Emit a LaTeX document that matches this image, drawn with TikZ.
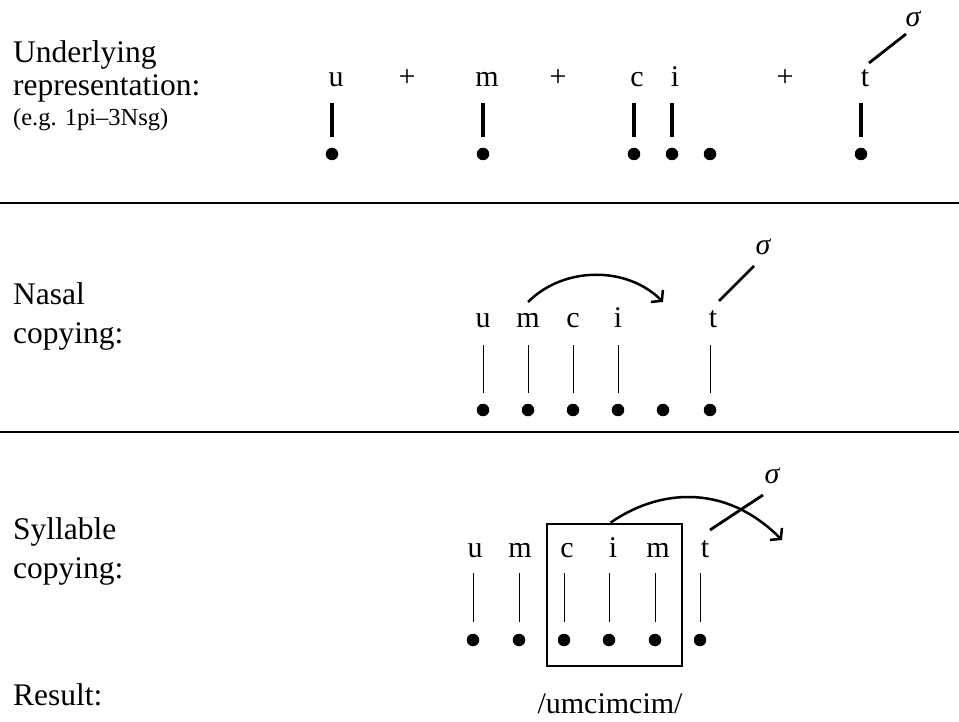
\documentclass[tikz,border=0pt]{standalone}
\usepackage{fontspec}
\setmainfont{Liberation Serif}
\usetikzlibrary{arrows.meta,calc}
\begin{document}
\begin{tikzpicture}[x=1pt,y=1pt,
  lbl/.style={anchor=base west, inner sep=0pt, font=\fontsize{31.5}{33}\selectfont},
  note/.style={anchor=base west, inner sep=0pt, font=\fontsize{24.5}{28}\selectfont},
  seg/.style={anchor=base, inner sep=0pt, font=\fontsize{30}{32}\selectfont},
  syl/.style={anchor=base, inner sep=0pt, font=\fontsize{30}{32}\selectfont\itshape},
  dot/.style={circle, fill, inner sep=0pt, minimum size=12.5pt},
  boldlink/.style={line width=3.4pt},
  thinlink/.style={line width=0.9pt},
  siglink/.style={line width=2.8pt},
  arcarrow/.style={line width=2.5pt, -{Straight Barb[length=7pt,width=17pt,line width=2.5pt]}},
  rule/.style={line width=1.2pt}]

\useasboundingbox (0,0) rectangle (959,-722);

% section rules
\coordinate (r1w) at (0,-203);   \coordinate (r1e) at (959,-203);
\coordinate (r2w) at (0,-432);   \coordinate (r2e) at (959,-432);
\draw[rule] (r1w) -- (r1e);
\draw[rule] (r2w) -- (r2e);

% ---------- underlying representation ----------
\node[lbl]  (h1a) at (13,-63)  {Underlying};
\node[lbl]  (h1b) at (13,-96)  {representation:};
\node[note] (h1c) at (13,-126) {(e.g. 1pi–3Nsg)};

\node[seg] (u1)  at (336,-87) {u};
\node[seg] (p1)  at (407,-87) {+};
\node[seg] (m1)  at (487,-87) {m};
\node[seg] (p2)  at (558,-87) {+};
\node[seg] (c1)  at (637,-87) {c};
\node[seg] (i1)  at (675,-87) {i};
\node[seg] (p3)  at (785,-87) {+};
\node[seg] (t1)  at (865,-87) {t};
\node[syl] (sg1) at (913,-27) {σ};

\node[dot] (a1) at (332,-154) {};
\node[dot] (a2) at (483,-154) {};
\node[dot] (a3) at (634,-154) {};
\node[dot] (a4) at (672,-154) {};
\node[dot] (a5) at (710,-154) {};
\node[dot] (a6) at (861,-154) {};

\foreach \d in {a1,a2,a3,a4,a6}
  \draw[boldlink] ([yshift=17pt]\d.center) -- ([yshift=51pt]\d.center);
\draw[siglink] ($(t1.base)+(4,24)$) -- ($(sg1.base)+(-7,-7)$);

% ---------- nasal copying ----------
\node[lbl] (h2a) at (13,-305) {Nasal};
\node[lbl] (h2b) at (13,-343) {copying:};

\node[seg] (u2) at (483,-327) {u};
\node[seg] (m2) at (528,-327) {m};
\node[seg] (c2) at (573,-327) {c};
\node[seg] (i2) at (618,-327) {i};
\node[seg] (t2) at (713,-327) {t};
\node[syl] (sg2) at (763,-255) {σ};

\node[dot] (b1) at (483,-410) {};
\node[dot] (b2) at (528,-410) {};
\node[dot] (b3) at (573,-410) {};
\node[dot] (b4) at (618,-410) {};
\node[dot] (b5) at (663,-410) {};
\node[dot] (b6) at (710,-410) {};

\foreach \d in {b1,b2,b3,b4,b6}
  \draw[thinlink] ([yshift=17pt]\d.center) -- ([yshift=65pt]\d.center);
\draw[siglink] ($(t2.base)+(6,26)$) -- ($(sg2.base)+(-9,-11)$);
\draw[arcarrow] ($(m2.base)+(0,25)$) .. controls ($(m2.base)+(36,61)$) and ($(b5.center)+(-36,144)$) .. ($(b5.center)+(0,108)$);

% ---------- syllable copying ----------
\node[lbl] (h3a) at (13,-539) {Syllable};
\node[lbl] (h3b) at (13,-578) {copying:};

\node[seg] (u3)  at (475,-557) {u};
\node[seg] (m3)  at (520,-557) {m};
\node[seg] (c3)  at (567,-557) {c};
\node[seg] (i3)  at (613,-557) {i};
\node[seg] (m3b) at (658,-557) {m};
\node[seg] (t3)  at (705,-557) {t};
\node[syl] (sg3) at (772,-483) {σ};

\node[dot] (e1) at (473,-640) {};
\node[dot] (e2) at (519,-640) {};
\node[dot] (e3) at (564,-640) {};
\node[dot] (e4) at (609,-640) {};
\node[dot] (e5) at (655,-640) {};
\node[dot] (e6) at (700,-640) {};

\foreach \d in {e1,e2,e3,e4,e5,e6}
  \draw[thinlink] ([yshift=18pt]\d.center) -- ([yshift=67pt]\d.center);

\node[draw, line width=2.5pt, inner sep=0pt, minimum width=135pt, minimum height=142pt] (frame) at (614.5,-595) {};

\coordinate (land) at (782,-540);
\draw[arcarrow] ([xshift=-4pt]frame.north) .. controls ($(frame.north)+(40,31)$) and ($(land)+(-60,60)$) .. (land);
\draw[siglink] ($(t3.base)+(5,27)$) -- ($(sg3.base)+(-9,-12)$);

% ---------- result ----------
\node[lbl] (h4) at (13,-705) {Result:};
\node[seg] (res) at (610,-713) {/umcimcim/};

\end{tikzpicture}
\end{document}
